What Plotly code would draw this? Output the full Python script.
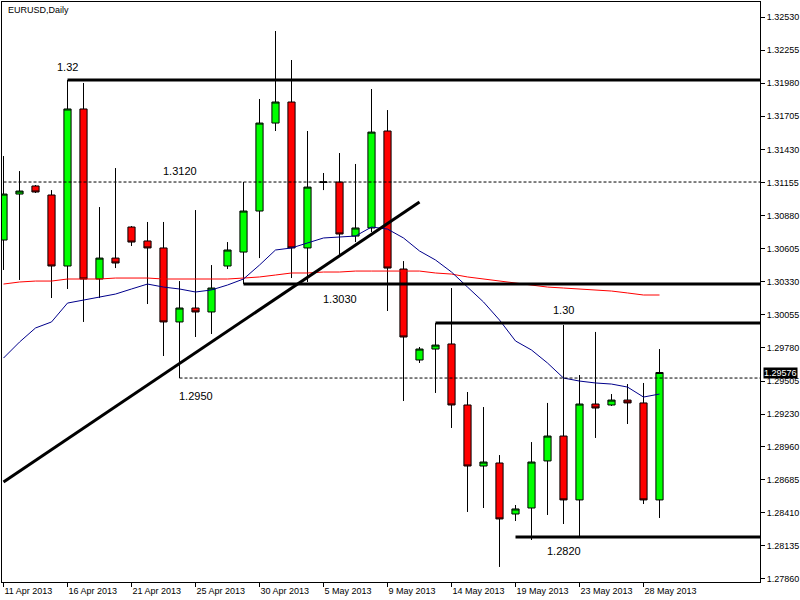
import plotly.graph_objects as go

# ---------------- data ----------------
dates = ["11 Apr 2013", "12 Apr 2013", "14 Apr 2013", "15 Apr 2013", "16 Apr 2013",
         "17 Apr 2013", "18 Apr 2013", "19 Apr 2013", "21 Apr 2013", "22 Apr 2013",
         "23 Apr 2013", "24 Apr 2013", "25 Apr 2013", "26 Apr 2013", "28 Apr 2013",
         "29 Apr 2013", "30 Apr 2013", "1 May 2013", "2 May 2013", "3 May 2013",
         "5 May 2013", "6 May 2013", "7 May 2013", "8 May 2013", "9 May 2013",
         "10 May 2013", "12 May 2013", "13 May 2013", "14 May 2013", "15 May 2013",
         "16 May 2013", "17 May 2013", "19 May 2013", "20 May 2013", "21 May 2013",
         "22 May 2013", "23 May 2013", "24 May 2013", "26 May 2013", "27 May 2013",
         "28 May 2013", "29 May 2013"]

opens = [1.30677, 1.31059, 1.31126, 1.31051, 1.30461, 1.31766, 1.30353, 1.30527, 1.30785, 1.30669,
         1.30611, 1.29996, 1.30112, 1.30079, 1.30461, 1.30577, 1.30918, 1.31649, 1.31824, 1.30611,
         1.31155, 1.31159, 1.30710, 1.30777, 1.31583, 1.30436, 1.29680, 1.29771, 1.29813, 1.29306,
         1.28799, 1.28824, 1.28400, 1.28450, 1.28841, 1.29048, 1.28517, 1.29314, 1.29306, 1.29347,
         1.29323, 1.28517]
highs = [1.31375, 1.31250, 1.31134, 1.31092, 1.32007, 1.31982, 1.30951, 1.31275, 1.30793, 1.30827,
         1.30827, 1.30336, 1.30926, 1.30469, 1.30660, 1.31159, 1.31849, 1.32414, 1.32173, 1.31583,
         1.31234, 1.31400, 1.31309, 1.31932, 1.31757, 1.30502, 1.29788, 1.29987, 1.30278, 1.29414,
         1.29289, 1.28890, 1.28475, 1.28998, 1.29323, 1.29971, 1.29555, 1.29913, 1.29397, 1.29480,
         1.29489, 1.29771]
lows = [1.30428, 1.30345, 1.31068, 1.30195, 1.30270, 1.29996, 1.30195, 1.30444, 1.30627, 1.30145,
        1.29713, 1.29530, 1.29871, 1.29896, 1.30436, 1.30311, 1.30527, 1.31583, 1.30361, 1.30328,
        1.31092, 1.30536, 1.30660, 1.30743, 1.30087, 1.29339, 1.29655, 1.29406, 1.29115, 1.28417,
        1.28450, 1.27960, 1.28342, 1.28184, 1.28392, 1.28317, 1.28209, 1.29032, 1.29298, 1.29148,
        1.28483, 1.28367]
closes = [1.31059, 1.31084, 1.31076, 1.30461, 1.31766, 1.30353, 1.30527, 1.30486, 1.30660, 1.30611,
          1.29996, 1.30112, 1.30079, 1.30278, 1.30594, 1.30918, 1.31649, 1.31824, 1.30611, 1.31117,
          1.31160, 1.30727, 1.30777, 1.31574, 1.30444, 1.29871, 1.29771, 1.29804, 1.29306, 1.28799,
          1.28832, 1.28359, 1.28442, 1.28832, 1.29048, 1.28517, 1.29314, 1.29281, 1.29347, 1.29323,
          1.28517, 1.29576]

ma_fast = [1.29696, 1.29829, 1.29946, 1.29996, 1.30153, 1.30178, 1.30203, 1.30228, 1.30270, 1.30311,
           1.30286, 1.30270, 1.30245, 1.30262, 1.30303, 1.30353, 1.30469, 1.30594, 1.30611, 1.30652,
           1.30694, 1.30702, 1.30710, 1.30785, 1.30768, 1.30694, 1.30586, 1.30511, 1.30411, 1.30286,
           1.30162, 1.30012, 1.29838, 1.29763, 1.29655, 1.29530, 1.29505, 1.29489, 1.29480, 1.29455,
           1.29372, 1.29397]
ma_slow = [1.30311, 1.30328, 1.30336, 1.30336, 1.30353, 1.30353, 1.30353, 1.30361, 1.30361, 1.30361,
           1.30353, 1.30353, 1.30353, 1.30353, 1.30353, 1.30361, 1.30370, 1.30386, 1.30403, 1.30403,
           1.30411, 1.30411, 1.30419, 1.30419, 1.30419, 1.30419, 1.30419, 1.30403, 1.30394, 1.30370,
           1.30353, 1.30336, 1.30320, 1.30303, 1.30286, 1.30278, 1.30270, 1.30262, 1.30253, 1.30237,
           1.30220, 1.30220]

level_prices = [1.32007, 1.31159, 1.30311, 1.29987, 1.29530, 1.28209]
level_start = [4, 0, 15, 27, 11, 32]
level_labels = ["1.32", "1.3120", "1.3030", "1.30", "1.2950", "1.2820"]
level_label_x = [4, 11, 21, 35, 12, 35]

trend_x = [0, 26]
trend_y = [1.28666, 1.30993]

last_price = 1.29576

y_ticks = [1.27860, 1.28135, 1.28410, 1.28685, 1.28960, 1.29230, 1.29505, 1.29780, 1.30055,
           1.30330, 1.30605, 1.30880, 1.31155, 1.31430, 1.31705, 1.31980, 1.32255, 1.32530]
x_tick_idx = [0, 4, 8, 12, 16, 20, 24, 28, 32, 36, 40]

# ---------------- styles ----------------
FONT = "Liberation Sans, Arial, sans-serif"
level_styles = [
    dict(width=3, dash="solid", yshift=13),
    dict(width=1, dash="3px,2px", yshift=11),
    dict(width=3, dash="solid", yshift=-15),
    dict(width=3, dash="solid", yshift=13),
    dict(width=1, dash="3px,2px", yshift=-18),
    dict(width=3, dash="solid", yshift=-14),
]
X_END = 48

idx = list(range(len(dates)))

fig = go.Figure()

fig.add_trace(go.Candlestick(
    x=idx, open=opens, high=highs, low=lows, close=closes,
    increasing=dict(fillcolor="#00FF00", line=dict(color="black", width=1)),
    decreasing=dict(fillcolor="#FF0000", line=dict(color="black", width=1)),
    whiskerwidth=0, showlegend=False, hoverinfo="skip",
))

fig.add_trace(go.Scatter(x=idx, y=ma_slow, mode="lines",
                         line=dict(color="#FF0000", width=1), showlegend=False, hoverinfo="skip"))
fig.add_trace(go.Scatter(x=idx, y=ma_fast, mode="lines",
                         line=dict(color="#00008B", width=1), showlegend=False, hoverinfo="skip"))

annotations = []
for price, start, label, lx, st in zip(level_prices, level_start, level_labels, level_label_x, level_styles):
    fig.add_trace(go.Scatter(x=[start, X_END], y=[price, price], mode="lines",
                             line=dict(color="black", width=st["width"], dash=st["dash"]),
                             showlegend=False, hoverinfo="skip"))
    annotations.append(dict(x=lx, y=price, xref="x", yref="y", text=label, showarrow=False,
                            xanchor="center", yanchor="middle", yshift=st["yshift"],
                            font=dict(family=FONT, size=11, color="black")))

fig.add_trace(go.Scatter(x=trend_x, y=trend_y, mode="lines",
                         line=dict(color="black", width=3), showlegend=False, hoverinfo="skip"))

annotations.append(dict(x=0, y=1, xref="paper", yref="paper", text="EURUSD,Daily", showarrow=False,
                        xanchor="left", yanchor="middle", xshift=4, yshift=-8,
                        font=dict(family=FONT, size=9, color="black")))
annotations.append(dict(x=1, y=last_price, xref="paper", yref="y", text=f"{last_price:.5f}",
                        showarrow=False, xanchor="left", yanchor="middle", xshift=3,
                        bgcolor="black", borderpad=0,
                        font=dict(family=FONT, size=9, color="white")))

fig.update_layout(
    width=800, height=600,
    margin=dict(l=2, r=40, t=2, b=18, autoexpand=False),
    paper_bgcolor="white", plot_bgcolor="white",
    boxgap=0.36,
    annotations=annotations,
    xaxis=dict(
        range=[-0.09375, 47.28125], rangeslider=dict(visible=False),
        showgrid=False, zeroline=False, automargin=False,
        showline=True, linecolor="black", linewidth=1, mirror=True,
        tickmode="array", tickvals=x_tick_idx, ticktext=[dates[i] for i in x_tick_idx],
        ticks="outside", ticklen=4, tickcolor="black", ticklabelposition="outside right",
        tickfont=dict(family=FONT, size=9, color="black"),
    ),
    yaxis=dict(
        range=[1.27835, 1.32655], side="right",
        showgrid=False, zeroline=False, automargin=False,
        showline=True, linecolor="black", linewidth=1, mirror=True,
        tickmode="array", tickvals=y_ticks, ticktext=[f"{v:.5f}" for v in y_ticks],
        ticks="outside", ticklen=4, tickcolor="black",
        tickfont=dict(family=FONT, size=9, color="black"),
    ),
)

fig.write_html("out.html",
               config={"displayModeBar": False},
               post_script="document.body.style.margin='0';document.body.style.overflow='hidden';")
